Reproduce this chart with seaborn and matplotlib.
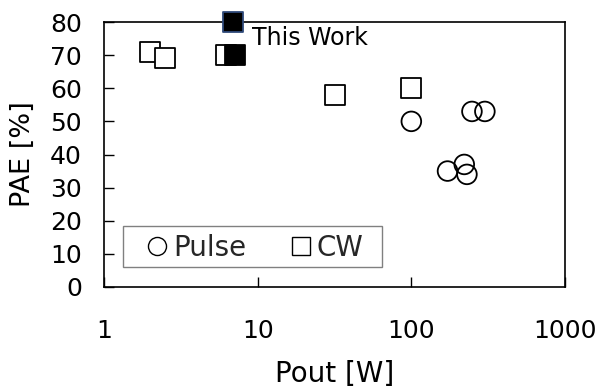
import matplotlib
matplotlib.use("Agg")
import matplotlib.pyplot as plt
import seaborn as sns
import pandas as pd
from matplotlib.lines import Line2D
from matplotlib.patches import Rectangle

# Data
pulse_x = [100, 172, 221, 230, 248, 301]
pulse_y = [50, 35, 37, 34, 53, 53]
cw_x = [2.0, 2.5, 6.2, 31.8, 100]
cw_y = [71, 69, 70, 58, 60]
this_x = [6.9, 7.1]
this_y = [80, 70]
x_ticks = [1, 10, 100, 1000]
x_tick_labels = ["1", "10", "100", "1000"]
y_ticks = [0, 10, 20, 30, 40, 50, 60, 70, 80]

sns.set_theme(style="white")
plt.rcParams['font.family'] = ['DejaVu Sans']

fig = plt.figure(figsize=(5.99, 3.92), dpi=100)
ax = fig.add_axes([104/599, 1 - 287/392, 461/599, 265/392])

pulse_df = pd.DataFrame({"x": pulse_x, "y": pulse_y})
cw_df = pd.DataFrame({"x": cw_x, "y": cw_y})
this_df = pd.DataFrame({"x": this_x, "y": this_y})

sns.scatterplot(data=pulse_df, x="x", y="y", ax=ax, marker="o", s=200,
                facecolor="none", edgecolor="black", linewidth=1.3, zorder=3)
sns.scatterplot(data=cw_df, x="x", y="y", ax=ax, marker="s", s=210,
                facecolor="white", edgecolor="black", linewidth=1.3, zorder=3)
sns.scatterplot(data=this_df, x="x", y="y", ax=ax, marker="s", s=210,
                facecolor="black", edgecolor=["#2f4a7a", "black"], linewidth=1.3,
                zorder=4, clip_on=False)

ax.set_xscale("log")
ax.set_xlim(1, 1000)
ax.set_ylim(0, 80)
ax.set_xticks(x_ticks)
ax.set_xticklabels(x_tick_labels)
ax.set_yticks(y_ticks)
ax.minorticks_off()
ax.tick_params(axis="both", direction="in", length=7, width=1, color="black",
               labelsize=18, labelcolor="black", bottom=True, left=True)
ax.tick_params(axis="y", pad=16)
ax.tick_params(axis="x", pad=23)

for sp in ax.spines.values():
    sp.set_color("black")
    sp.set_linewidth(1.2)
    sp.set_visible(True)

ax.set_xlabel("Pout [W]", fontsize=20, color="black")
ax.set_ylabel("PAE [%]", fontsize=19.5, color="black")
ax.xaxis.set_label_coords(0.5, -0.275)
ax.yaxis.set_label_coords(-0.148, 0.5)

ax.text(9.18, 75.2, "This Work", fontsize=17, va="center", ha="left", color="black")

# legend frame
ax.add_patch(Rectangle((0.0412, 0.0755), 0.5618, 0.1547, transform=ax.transAxes,
                       facecolor="white", edgecolor="#808080", linewidth=1, zorder=5))

handles = [
    Line2D([], [], marker="o", linestyle="none", markersize=13, markerfacecolor="none",
           markeredgecolor="black", markeredgewidth=1),
    Line2D([], [], marker="s", linestyle="none", markersize=13, markerfacecolor="none",
           markeredgecolor="black", markeredgewidth=1),
]
leg = ax.legend(handles, ["Pulse", "CW"], loc="center left",
                bbox_to_anchor=(0.0911, 0.147), ncol=2, fontsize=20,
                frameon=False, handlelength=0.8, handletextpad=0.18,
                columnspacing=1.55, borderpad=0, borderaxespad=0)
leg.set_zorder(6)

fig.savefig("out.png", dpi=100)
